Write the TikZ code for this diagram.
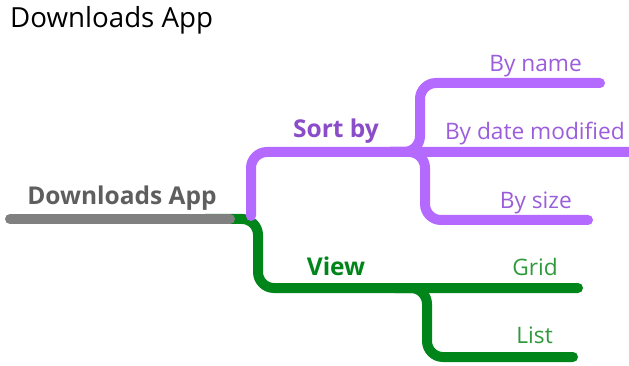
\documentclass[tikz,border=0pt]{standalone}
\usepackage{fontspec}
\setmainfont{Open Sans}
\definecolor{pline}{HTML}{B469FF}
\definecolor{ptext}{HTML}{8A4CC8}
\definecolor{pchild}{HTML}{9B5DDB}
\definecolor{gline}{HTML}{00851A}
\definecolor{gtext}{HTML}{00851A}
\definecolor{gchild}{HTML}{2E9A3C}
\definecolor{rline}{HTML}{808080}
\definecolor{rtext}{HTML}{5E5E5E}
\begin{document}
\begin{tikzpicture}[x=1pt,y=-1pt,
  branch/.style={line width=10pt,line cap=round,rounded corners=16pt},
  maintext/.style={inner sep=0pt,font=\fontsize{24.5}{24.5}\selectfont\bfseries},
  childtext/.style={inner sep=0pt,anchor=base east,font=\fontsize{22.7}{22.7}\selectfont}]
\useasboundingbox (0,0) rectangle (629,366);
% title
\node[inner sep=0pt,anchor=base west,font=\fontsize{27.7}{27.7}\selectfont] (title) at (10,28) {Downloads App};
% coordinates
\coordinate (rs) at (10,219);
\coordinate (re) at (230,219);
\coordinate (gs) at (205,219);
\coordinate (gc1) at (258,219);
\coordinate (gc2) at (258,288);
\coordinate (grid) at (578,288);
\coordinate (gf) at (395,288);
\coordinate (gf1) at (427,288);
\coordinate (gf2) at (427,357);
\coordinate (list) at (573,357);
\coordinate (ps) at (251,216);
\coordinate (pc) at (251,152);
\coordinate (pdate) at (629,152);
\coordinate (pf) at (390,152);
\coordinate (pf1) at (420,152);
\coordinate (pf2) at (420,83);
\coordinate (pname) at (600,83);
\coordinate (pf3) at (425,152);
\coordinate (pf4) at (425,220);
\coordinate (psize) at (588,220);
% green
\draw[branch,gline] (gs) -- (gc1) -- (gc2) -- (grid);
\draw[branch,gline] (gf) -- (gf1) -- (gf2) -- (list);
% purple
\draw[branch,pline] (ps) -- (pc) -- (pdate);
\draw[branch,pline] (pf) -- (pf1) -- (pf2) -- (pname);
\draw[branch,pline] (pf) -- (pf3) -- (pf4) -- (psize);
% root
\draw[line width=10pt,line cap=round,rline] (rs) -- (re);
% labels
\node[maintext,rtext,anchor=base] (root) at (122,205) {Downloads App};
\node[maintext,ptext,anchor=base] (sortby) at (336,138) {Sort by};
\node[maintext,gtext,anchor=base] (view) at (336,275) {View};
\node[childtext,pchild] (byname) at (582,72) {By name};
\node[childtext,pchild] (bydate) at (625,140) {By date modified};
\node[childtext,pchild] (bysize) at (572,208) {By size};
\node[childtext,gchild] (gridt) at (558,275) {Grid};
\node[childtext,gchild] (listt) at (553,343) {List};
\end{tikzpicture}
\end{document}
